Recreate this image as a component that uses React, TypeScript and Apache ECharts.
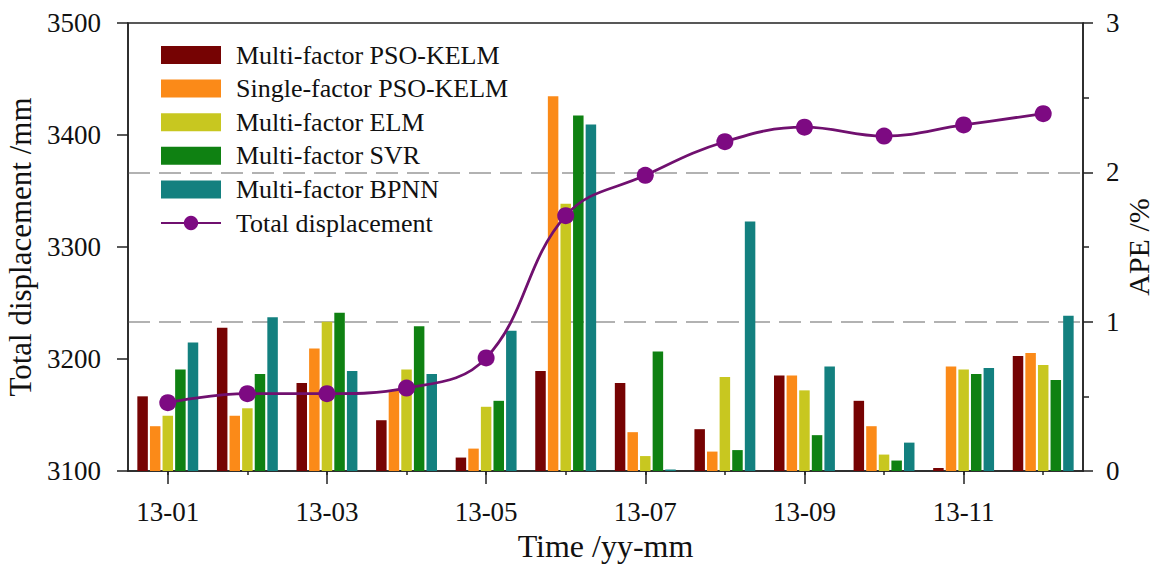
import React, { useEffect, useRef } from "react";
import * as echarts from "echarts";

// Monthly categories (yy-mm)
const months = ["13-01", "13-02", "13-03", "13-04", "13-05", "13-06", "13-07", "13-08", "13-09", "13-10", "13-11", "13-12"];

// Measured total displacement (mm), left axis
const totalDisplacement = [3161, 3169, 3169, 3174, 3201, 3328, 3364, 3394, 3407, 3399, 3409, 3419];

// Absolute percentage error (%) of each model, right axis
const mfPsoKelm = [0.50, 0.96, 0.59, 0.34, 0.09, 0.67, 0.59, 0.28, 0.64, 0.47, 0.02, 0.77];
const sfPsoKelm = [0.30, 0.37, 0.82, 0.54, 0.15, 2.51, 0.26, 0.13, 0.64, 0.30, 0.70, 0.79];
const mfElm = [0.37, 0.42, 1.00, 0.68, 0.43, 1.79, 0.10, 0.63, 0.54, 0.11, 0.68, 0.71];
const mfSvr = [0.68, 0.65, 1.06, 0.97, 0.47, 2.38, 0.80, 0.14, 0.24, 0.07, 0.65, 0.61];
const mfBpnn = [0.86, 1.03, 0.67, 0.65, 0.94, 2.32, 0.01, 1.67, 0.70, 0.19, 0.69, 1.04];

const leftTicks = [3100, 3500, 100];
const rightTicks = [0, 3, 1];

const FONT = "'Liberation Serif', 'Times New Roman', serif";
const INK = "#111";

const barSeries = [
  { name: "Multi-factor PSO-KELM", data: mfPsoKelm, color: "#760303" },
  { name: "Single-factor PSO-KELM", data: sfPsoKelm, color: "#fb8a18" },
  { name: "Multi-factor ELM", data: mfElm, color: "#c8c720" },
  { name: "Multi-factor SVR", data: mfSvr, color: "#0f8112" },
  { name: "Multi-factor BPNN", data: mfBpnn, color: "#13807f" },
];

export default function App() {
  const ref = useRef<HTMLDivElement>(null);

  useEffect(() => {
    if (!ref.current) return;
    const chart = echarts.init(ref.current, undefined, { renderer: "svg" });
    const everyOther = (i: number) => i % 2 === 0;
    const plain = (v: number) => String(v);

    chart.setOption({
      animation: false,
      backgroundColor: "#fff",
      textStyle: { fontFamily: FONT, color: INK },
      grid: {
        left: 128,
        right: 75,
        top: 23,
        bottom: 94,
        outerBoundsMode: "none",
        containLabel: false,
        show: true,
        borderColor: "#222",
        borderWidth: 1.5,
        backgroundColor: "transparent",
      },
      legend: {
        orient: "vertical",
        left: 155,
        top: 37,
        itemWidth: 60,
        itemHeight: 18,
        itemGap: 7.6,
        textStyle: {
          fontFamily: FONT,
          fontSize: 26,
          color: INK,
          padding: [0, 0, 0, 10],
        },
        data: [
          ...barSeries.map((s) => ({ name: s.name, icon: "rect" })),
          { name: "Total displacement" },
        ],
      },
      xAxis: [
        {
          type: "category",
          data: months,
          position: "bottom",
          boundaryGap: true,
          axisLine: { show: true, lineStyle: { color: "#222", width: 1.5 } },
          axisTick: { show: true, alignWithLabel: true, interval: 0, length: 4, lineStyle: { color: "#222", width: 1.5 } },
          axisLabel: { show: false },
          splitLine: { show: false },
        },
        {
          type: "category",
          data: months,
          position: "bottom",
          boundaryGap: true,
          axisLine: { show: false },
          axisTick: { show: true, alignWithLabel: true, interval: everyOther, length: 13, lineStyle: { color: "#222", width: 1.5 } },
          axisLabel: { show: true, interval: everyOther, fontFamily: FONT, fontSize: 27, color: INK, margin: 27 },
          splitLine: { show: false },
          name: "Time /yy-mm",
          nameLocation: "middle",
          nameGap: 54,
          nameTextStyle: { fontFamily: FONT, fontSize: 32, color: INK },
        },
      ],
      yAxis: [
        {
          type: "value",
          position: "left",
          min: leftTicks[0],
          max: leftTicks[1],
          interval: leftTicks[2],
          axisLine: { show: true, lineStyle: { color: "#222", width: 1.5 } },
          axisTick: { show: true, length: 11, lineStyle: { color: "#222", width: 1.5 } },
          axisLabel: { fontFamily: FONT, fontSize: 27, color: INK, margin: 27, formatter: plain },
          splitLine: { show: false },
          name: "Total displacement /mm",
          nameLocation: "middle",
          nameGap: 89,
          nameTextStyle: { fontFamily: FONT, fontSize: 31, color: INK },
        },
        {
          type: "value",
          position: "right",
          min: rightTicks[0],
          max: rightTicks[1],
          interval: rightTicks[2],
          axisLine: { show: true, lineStyle: { color: "#222", width: 1.5 } },
          axisTick: { show: true, length: 10, lineStyle: { color: "#222", width: 1.5 } },
          minorTick: { show: true, splitNumber: 2, length: 6, lineStyle: { color: "#222", width: 1.5 } },
          axisLabel: { fontFamily: FONT, fontSize: 27, color: INK, margin: 23, formatter: plain },
          splitLine: {
            show: true,
            showMinLine: false,
            showMaxLine: false,
            lineStyle: { color: "#999", width: 1.5, type: [22, 9] },
          },
          name: "APE /%",
          nameLocation: "middle",
          nameGap: 40,
          nameMoveOverlap: false,
          nameTextStyle: { fontFamily: FONT, fontSize: 30, color: INK },
        },
      ],
      series: [
        ...barSeries.map((s) => ({
          name: s.name,
          type: "bar",
          xAxisIndex: 0,
          yAxisIndex: 1,
          data: s.data,
          barWidth: 10.5,
          barGap: "20%",
          itemStyle: { color: s.color },
          z: 2,
        })),
        {
          name: "Total displacement",
          type: "line",
          xAxisIndex: 0,
          yAxisIndex: 0,
          data: totalDisplacement,
          smooth: 0.4,
          symbol: "circle",
          symbolSize: 17,
          lineStyle: { color: "#70106f", width: 2.8 },
          itemStyle: { color: "#7d0a82" },
          z: 5,
        },
      ],
    });

    return () => chart.dispose();
  }, []);

  return (
    <div
      ref={ref}
      style={{ position: "fixed", left: 0, top: 0, width: 1158, height: 565 }}
    />
  );
}
